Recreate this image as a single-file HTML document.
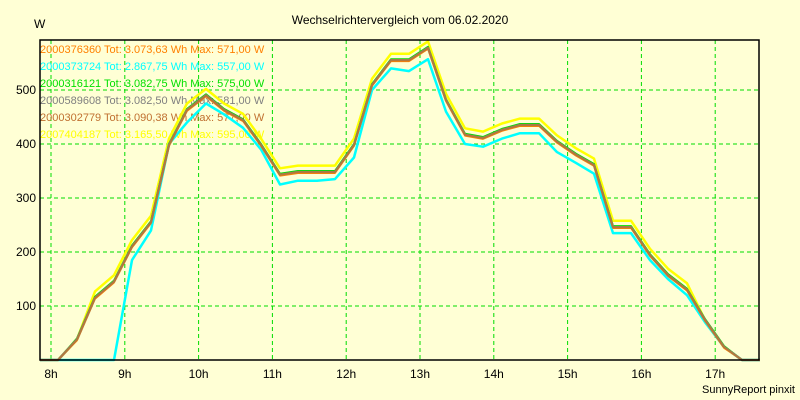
<!DOCTYPE html>
<html><head><style>body{margin:0;background:#ffffd5}svg{display:block}text{font-family:"Liberation Sans",sans-serif}</style></head>
<body>
<svg id="s" width="800" height="400" xmlns="http://www.w3.org/2000/svg">
<rect width="800" height="400" fill="#ffffd5"/>
<text x="400" y="24" font-size="12" text-anchor="middle">Wechselrichtervergleich vom 06.02.2020</text>
<text x="34" y="28" font-size="12">W</text>
<g id="grid" stroke="#00dd00" stroke-dasharray="4,3" stroke-width="1"></g>
<g id="lab" font-size="12"></g>
<g font-size="11">
<text x="40" y="53" fill="#ff8000">2000376360 Tot: 3.073,63 Wh Max: 571,00 W</text>
<text x="40" y="70" fill="#00ffff">2000373724 Tot: 2.867,75 Wh Max: 557,00 W</text>
<text x="40" y="87" fill="#00e000">2000316121 Tot: 3.082,75 Wh Max: 575,00 W</text>
<text x="40" y="104" fill="#808080">2000589608 Tot: 3.082,50 Wh Max: 581,00 W</text>
<text x="40" y="121" fill="#c07030">2000302779 Tot: 3.090,38 Wh Max: 577,00 W</text>
<text x="40" y="138" fill="#ffff00">2007404187 Tot: 3.165,50 Wh Max: 595,00 W</text>
</g>
<g id="lines" fill="none" stroke-width="2.5" stroke-linejoin="round"></g>
<rect x="40" y="40" width="719" height="320" fill="none" stroke="#000" stroke-width="1.5"/>
<text x="795" y="393" font-size="11" text-anchor="end">SunnyReport pinxit</text>
</svg>
<script>
var NS="http://www.w3.org/2000/svg";
function el(p,t,a,tx){var e=document.createElementNS(NS,t);for(var k in a)e.setAttribute(k,a[k]);if(tx)e.textContent=tx;document.getElementById(p).appendChild(e);}
for(var h=8;h<=17;h++){var x=51+(h-8)*73.8;el("grid","line",{x1:x,y1:40,x2:x,y2:360});el("lab","text",{x:x,y:378,"text-anchor":"middle"},h+"h");}
for(var v=100;v<=500;v+=100){var y=360-v*0.54;el("grid","line",{x1:40,y1:y,x2:759,y2:y});el("lab","text",{x:36,y:y+4,"text-anchor":"end"},v);}
var xs=[40,58,77,95,114,132,151,169,187,206,224,243,261,280,298,317,335,354,372,391,409,428,446,465,483,502,520,539,557,576,594,613,631,650,668,687,705,724,742,760];
var b=[0,0,38,115,145,210,255,398,463,490,463,444,398,343,348,348,348,398,509,555,555,578,481,417,411,426,435,435,404,380,361,246,246,194,157,130,74,24,0,0];
var c=[0,0,0,0,0,185,240,400,440,475,455,430,390,325,332,332,335,375,500,540,535,557,460,400,395,410,420,420,385,365,345,235,235,185,150,120,70,24,0,0];
function P(a){return a.map(function(v,i){return xs[i]+","+(360-v*0.54).toFixed(1)}).join(" ");}
var y=b.map(function(v,i){return v>100?v+12:v});
function add(a,col,w){el("lines","polyline",{points:P(a),stroke:col,"stroke-width":w});}
add(y,"#ffff00",2.5);add(c,"#00ffff",2.5);
add(b.map(function(v){return v>0?v+2:v}),"#00e000",2);
add(b,"#808080",2.5);add(b.map(function(v){return v>0?v-2:v}),"#ff8000",1.5);add(b,"#b07840",2);
</script>
</body></html>
